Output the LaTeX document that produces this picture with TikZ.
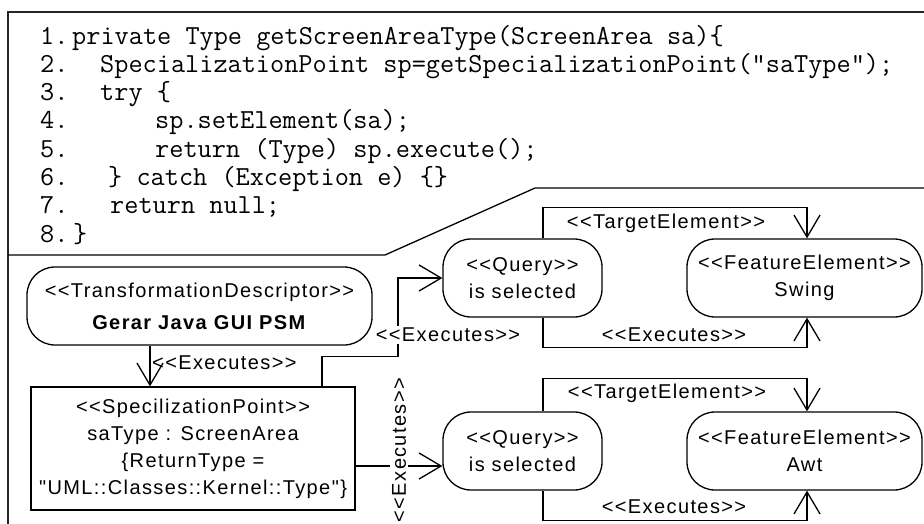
\documentclass[tikz,border=0pt]{standalone}
\usepackage{fontspec}
\setmainfont{Liberation Sans}
\newfontfamily\umlfont[LetterSpace=7]{Liberation Sans}
\usetikzlibrary{arrows.meta}

\begin{document}
\begin{tikzpicture}[x=1pt,y=1pt]
	\tikzstyle{every node}+=[inner sep=0pt]
	\tikzstyle{umltext}=[font=\umlfont\fontsize{20}{27}\selectfont, align=center]
	\tikzstyle{code}=[anchor=base west, font=\ttfamily\fontsize{27.5}{30}\selectfont]
	\tikzstyle{roundbox}=[draw, line width=1.3pt, rounded corners=28pt, umltext, minimum height=78pt]
	\tikzstyle{arr}=[line width=1.3pt, -{Straight Barb[length=22pt,width=26pt]}]
	\tikzstyle{tag}=[umltext]
	\tikzstyle{covertag}=[umltext, fill=white, inner sep=2pt]
	\useasboundingbox (0,0) rectangle (924,-523);
	\clip (0,0) rectangle (924,-523);
	% frame and separator
	\draw [black!85, line width=1.6pt] (8,-12) rectangle (940,-540);
	\draw [line width=1.3pt] (8,-255) -- (385,-255) -- (535,-188) -- (940,-188);
	% code lines
	\node [code] (n1) at (40,-44) {1.};
	\node [code] (c1) at (72,-44) {private Type getScreenAreaType(ScreenArea sa)\{};
	\node [code] (n2) at (40,-72.3) {2.};
	\node [code] (c2) at (100,-72.3) {SpecializationPoint sp=getSpecializationPoint("saType");};
	\node [code] (n3) at (40,-100.6) {3.};
	\node [code] (c3) at (100,-100.6) {try \{};
	\node [code] (n4) at (40,-128.9) {4.};
	\node [code] (c4) at (155,-128.9) {sp.setElement(sa);};
	\node [code] (n5) at (40,-157.2) {5.};
	\node [code] (c5) at (155,-157.2) {return (Type) sp.execute();};
	\node [code] (n6) at (40,-185.5) {6.};
	\node [code] (c6) at (108,-185.5) {\} catch (Exception e) \{\}};
	\node [code] (n7) at (40,-213.8) {7.};
	\node [code] (c7) at (110,-213.8) {return null;};
	\node [code] (n8) at (40,-242.1) {8.};
	\node [code] (c8) at (73,-242.1) {\}};
	% elements
	\node [roundbox, minimum width=345pt] (td) at (199.5,-306) {<<TransformationDescriptor>>\\[5pt]\textbf{Gerar Java GUI PSM}};
	\node [draw, line width=1.3pt, umltext, minimum width=324pt, minimum height=123pt] (sp) at (193,-448.5) {<<SpecilizationPoint>>\\saType : ScreenArea\\\{ReturnType =\\"UML::Classes::Kernel::Type"\}};
	\node [roundbox, minimum width=159pt] (q1) at (522.5,-278) {<<Query>>\\is selected};
	\node [roundbox, minimum width=235pt] (fe1) at (804.5,-278) {<<FeatureElement>>\\Swing};
	\node [roundbox, minimum width=159pt] (q2) at (522.5,-451) {<<Query>>\\is selected};
	\node [roundbox, minimum width=235pt] (fe2) at (804.5,-451) {<<FeatureElement>>\\Awt};
	% connectors
	\draw [arr] ([xshift=-49.5pt]td.south) -- ([xshift=-43pt]sp.north);
	\node [tag, anchor=west] (x1) at (152,-363) {<<Executes>>};
	\draw [arr] ([xshift=129pt]sp.north) -- ++(0,30) -- ++(76,0) |- (q1.west);
	\node [covertag] (x2) at (448,-335) {<<Executes>>};
	\draw [arr] ([yshift=-17.5pt]sp.east) -- ([yshift=-15pt]q2.west);
	\node [covertag, rotate=90] (x3) at (399,-450) {<<Executes>>};
	\draw [arr] ([xshift=20.5pt]q1.north) -- ++(0,31) -| ([xshift=2.5pt]fe1.north);
	\node [tag] (t1) at (666,-223) {<<TargetElement>>};
	\draw [arr] ([xshift=20.5pt]q1.south) -- ++(0,-30) -| ([xshift=2.5pt]fe1.south);
	\node [tag] (x4) at (674,-335) {<<Executes>>};
	\draw [arr] ([xshift=20.5pt]q2.north) -- ++(0,33) -| ([xshift=2.5pt]fe2.north);
	\node [tag] (t2) at (667,-393) {<<TargetElement>>};
	\draw [arr] ([xshift=20.5pt]q2.south) -- ++(0,-30) -| ([xshift=2.5pt]fe2.south);
	\node [tag] (x5) at (674,-507) {<<Executes>>};
\end{tikzpicture}
\end{document}
